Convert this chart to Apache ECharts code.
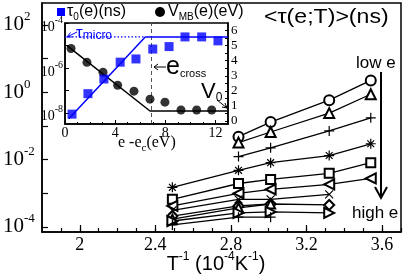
<!DOCTYPE html>
<html><head><meta charset="utf-8">
<script src="https://cdn.jsdelivr.net/npm/echarts@6/dist/echarts.min.js"></script>
<style>html,body{margin:0;padding:0;background:#fff}#c{width:403px;height:277px}</style>
</head><body><div id="c"></div>
<script>
// ---- main panel data: <tau(e;T)> (ns) vs T^-1 (1e-4 K^-1) ----
const invT = [2.49, 2.84, 3.01, 3.32, 3.54];
const tauCircle  = [null, 0.048, 0.13, 0.58, 2.25];
const tauTriUp   = [null, 0.032, 0.066, 0.24, 0.87];
const tauPlus    = [null, 0.0123, 0.0224, 0.071, 0.174];
const tauStar    = [0.0015, 0.0048, 0.0081, 0.0132, 0.0295];
const tauSquare  = [6.6e-4, 1.95e-3, 2.57e-3, 3.9e-3, 8.1e-3];
const tauTriLeft = [4.2e-4, 1.0e-3, 1.3e-3, 1.84e-3, 2.75e-3];
const tauCross   = [3.1e-4, 6.6e-4, 6.6e-4, 9.3e-4, null];
const tauDiamond = [2.1e-4, 4.2e-4, 4.8e-4, 4.5e-4, null];
const tauTriUp2  = [1.7e-4, 3.7e-4, 4.8e-4, null, null];
const tauTriRight= [1.5e-4, 2.6e-4, 2.8e-4, 2.6e-4, null];
const tauPlus2   = [1.15e-4, 1.95e-4, 1.95e-4, null, null];
const mainYTicks = [-4, -3, -2, -1, 0, 1, 2];
const mainYLabels = [-4, -2, 0, 2];
const mainXLabels = [2, 2.4, 2.8, 3.2, 3.6];

// ---- inset data ----
const tauE   = [0.56, 1.83, 3.1, 4.4, 5.66, 7.0, 8.3, 9.57, 10.9, 12.2];
const tau0   = [8.7e-9, 7.1e-8, 3.2e-7, 1.8e-6, 2.5e-6, 6.9e-6, 8.9e-6, 2.4e-5, 2.4e-5, 1.6e-5];
const tauFitE = [0.3, 6.4, 13];
const tauFitV = [5.4e-9, 2.4e-5, 2.4e-5];
const tauMicro = 2.4e-5;
const tauMicroE = [0, 6.4];
const vE   = [0.48, 1.75, 3.03, 4.2, 5.5, 6.78, 7.97, 9.25, 10.5, 11.7];
const vMB  = [4.81, 3.89, 3.23, 2.37, 1.98, 1.45, 1.25, 0.73, 0.73, 0.73];
const vFitE = [0.16, 6.78, 13];
const vFitV = [5.0, 0.66, 0.66];
const eCross = 6.9;
const insetYTicks = [-8, -7, -6, -5, -4];
const insetYLabels = [-8, -6, -4];
const insetRTicks = [0,0.5,1,1.5,2,2.5,3,3.5,4,4.5,5,5.5,6];
const insetRLabels = [0,1,2,3,4,5,6];

const L10 = Math.log10;
const pts = (xs, ys) => xs.map((x,i)=>[x, ys[i]==null?null:L10(ys[i])]).filter(p=>p[1]!==null);
const lin = (xs, ys) => xs.map((x,i)=>[x, ys[i]]);

const PLUS = 'path://M5,0L5,10M0,5L10,5';
const CROSS = 'path://M0,0L10,10M10,0L0,10';
const STAR = 'path://M5,0L5,10M0,5L10,5M1.6,1.6L8.4,8.4M8.4,1.6L1.6,8.4';

const mainDefs = [
  [tauCircle, 'emptyCircle', 10, 0],
  [tauTriUp, 'emptyTriangle', 10, 0],
  [tauPlus, PLUS, 10, 0],
  [tauStar, STAR, 10, 0],
  [tauSquare, 'emptyRect', 9, 0],
  [tauTriLeft, 'emptyTriangle', 10, 90],
  [tauCross, CROSS, 8, 0],
  [tauDiamond, 'emptyDiamond', 10, 0],
  [tauTriUp2, 'emptyTriangle', 9, 0],
  [tauTriRight, 'emptyTriangle', 10, -90],
  [tauPlus2, PLUS, 10, 0]
];

const serif = 'Liberation Serif';
const sans = 'Liberation Sans';
const range = (a,b,s)=>{const r=[];for(let v=a;v<=b+1e-9;v+=s)r.push(Math.round(v*100)/100);return r;};

const series = [];
mainDefs.forEach(d => {
  series.push({
    type:'line', xAxisIndex:0, yAxisIndex:0, data: pts(invT, d[0]),
    symbol:d[1], symbolSize:d[2], symbolRotate:d[3], showAllSymbol:true,
    lineStyle:{color:'#000', width:1.3},
    itemStyle:{color:'#000', borderColor:'#000', borderWidth:1.2},
    z:3, animation:false, silent:true
  });
});
// inset series
series.push({type:'line', xAxisIndex:2, yAxisIndex:2, data: lin(vFitE, vFitV), symbol:'none',
  lineStyle:{color:'#000', width:1.5}, z:5, animation:false,
  markLine:{silent:true, symbol:'none', label:{show:false}, animation:false,
    lineStyle:{color:'#555', type:[4,3], width:1}, data:[{xAxis:eCross}]}});
series.push({type:'scatter', xAxisIndex:2, yAxisIndex:2, data: lin(vE, vMB), symbol:'circle', symbolSize:9,
  itemStyle:{color:'#000'}, z:6, animation:false});
series.push({type:'line', xAxisIndex:2, yAxisIndex:1, data: pts(tauMicroE, [tauMicro, tauMicro]), symbol:'none',
  lineStyle:{color:'#0000ff', width:1.2, type:[1.5,2]}, z:7, animation:false});
series.push({type:'line', xAxisIndex:2, yAxisIndex:1, data: pts(tauFitE, tauFitV), symbol:'none',
  lineStyle:{color:'#0000ff', width:1.5}, z:7, animation:false});
series.push({type:'scatter', xAxisIndex:2, yAxisIndex:1, data: pts(tauE, tau0), symbol:'rect', symbolSize:9,
  itemStyle:{color:'#0000ff'}, z:8, animation:false});

const option = {
  animation:false,
  backgroundColor:'#fff',
  grid:[
    {left:40, top:3, right:2, bottom:45, show:true, borderColor:'#000', borderWidth:1.5, z:0},
    {left:65, top:23, right:175, bottom:153, show:true, borderColor:'#000', borderWidth:1.5, backgroundColor:'#fff', z:4}
  ],
  xAxis:[
    {gridIndex:0, type:'value', min:1.8, max:3.7, position:'bottom',
      axisLine:{onZero:false, lineStyle:{color:'#000', width:1.5}},
      axisTick:{inside:true, length:4, customValues: range(1.9,3.7,0.1), lineStyle:{color:'#000', width:1.2}},
      axisLabel:{customValues: mainXLabels, color:'#000', fontFamily:serif, fontSize:18, margin:4},
      splitLine:{show:false}},
    {gridIndex:0, type:'value', min:1.8, max:3.7, position:'bottom',
      axisLine:{show:false, onZero:false},
      axisTick:{inside:true, length:7, customValues: mainXLabels, lineStyle:{color:'#000', width:1.2}},
      axisLabel:{show:false}, splitLine:{show:false}},
    {gridIndex:1, type:'value', min:0, max:13, interval:4, position:'bottom', z:5,
      axisLine:{onZero:false, lineStyle:{color:'#000', width:1.5}},
      axisTick:{inside:true, length:4, lineStyle:{color:'#000'}},
      minorTick:{show:true, splitNumber:4, length:2, lineStyle:{color:'#000'}},
      axisLabel:{color:'#000', fontFamily:serif, fontSize:14, margin:2,
        formatter: v => (v>12.5?'':String(v))},
      splitLine:{show:false}}
  ],
  yAxis:[
    {gridIndex:0, type:'value', min:-4.15, max:2.65,
      axisLine:{onZero:false, lineStyle:{color:'#000', width:1.5}},
      axisTick:{inside:true, length:6, customValues: mainYTicks, lineStyle:{color:'#000', width:1.2}},
      axisLabel:{customValues: mainYLabels, align:'left', margin:39, color:'#000',
        formatter: v => '{b|10}{s|' + v + '}',
        rich:{b:{fontFamily:serif, fontSize:21, lineHeight:21, color:'#000', verticalAlign:'middle'},
              s:{fontFamily:serif, fontSize:13, lineHeight:13, padding:[0,0,16,0], color:'#000', verticalAlign:'middle'}}},
      splitLine:{show:false}},
    {gridIndex:1, type:'value', min:-8.5, max:-4, position:'left', z:5,
      axisLine:{onZero:false, lineStyle:{color:'#000', width:1.5}},
      axisTick:{inside:true, length:4, customValues: insetYTicks, lineStyle:{color:'#000'}},
      axisLabel:{customValues: insetYLabels, margin:2, color:'#000', showMaxLabel:true, showMinLabel:true, hideOverlap:false,
        formatter: v => '{b|10}{s|' + v + '}',
        rich:{b:{fontFamily:serif, fontSize:14, lineHeight:14, color:'#000', verticalAlign:'middle', padding:[8,0,0,0]},
              s:{fontFamily:serif, fontSize:10, lineHeight:10, padding:[0,0,6,0], color:'#000', verticalAlign:'middle'}}},
      splitLine:{show:false}},
    {gridIndex:1, type:'value', min:-0.2, max:6.5, position:'right', z:5,
      axisLine:{onZero:false, lineStyle:{color:'#000', width:1.5}},
      axisTick:{inside:true, length:3, customValues: insetRTicks, lineStyle:{color:'#000'}},
      axisLabel:{customValues: insetRLabels, margin:3, color:'#000', fontFamily:serif, fontSize:13},
      splitLine:{show:false}}
  ],
  series: series,
  graphic:[
    {type:'text', x:264, y:17, scaleX:1.1, z:20,
      style:{text:'<τ(e;T)>(ns)', fontFamily:sans, fontSize:21, fill:'#000', align:'left', verticalAlign:'middle'}},
    {type:'text', x:356, y:63, z:20,
      style:{text:'low e', fontFamily:sans, fontSize:17, fill:'#000', align:'left', verticalAlign:'middle'}},
    {type:'text', x:352, y:213, z:20,
      style:{text:'high e', fontFamily:sans, fontSize:17, fill:'#000', align:'left', verticalAlign:'middle'}},
    {type:'line', z:20, shape:{x1:381, y1:72, x2:381, y2:197}, style:{stroke:'#000', lineWidth:2}},
    {type:'polyline', z:20, shape:{points:[[375,187],[381,198],[387,187]]}, style:{stroke:'#000', lineWidth:2, fill:null}},
    {type:'text', x:216, y:264, z:20,
      style:{text:'{a|T}{s|-1}{a| (10}{s|-4}{a|K}{s|-1}{a|)}', align:'center', verticalAlign:'middle',
        rich:{a:{fontFamily:sans, fontSize:20, lineHeight:20, fill:'#000', verticalAlign:'middle'},
              s:{fontFamily:sans, fontSize:12, lineHeight:12, padding:[0,0,14,0], fill:'#000', verticalAlign:'middle'}}}},
    // inset legend
    {type:'rect', z:20, shape:{x:57, y:8, width:8, height:8}, style:{fill:'#0000ff'}},
    {type:'text', x:67, y:12, z:20,
      style:{text:'{a|τ}{b|0}{a|(e)(ns)}', align:'left', verticalAlign:'middle',
        rich:{a:{fontFamily:sans, fontSize:16, lineHeight:16, fill:'#000', verticalAlign:'middle'},
              b:{fontFamily:sans, fontSize:10, lineHeight:10, padding:[10,0,0,0], fill:'#000', verticalAlign:'middle'}}}},
    {type:'circle', z:20, shape:{cx:160, cy:12, r:5}, style:{fill:'#000'}},
    {type:'text', x:168, y:12, z:20,
      style:{text:'{a|V}{b|MB}{a|(e)(eV)}', align:'left', verticalAlign:'middle',
        rich:{a:{fontFamily:sans, fontSize:16, lineHeight:16, fill:'#000', verticalAlign:'middle'},
              b:{fontFamily:sans, fontSize:10, lineHeight:10, padding:[10,0,0,0], fill:'#000', verticalAlign:'middle'}}}},
    // tau micro
    {type:'line', z:20, shape:{x1:77, y1:32, x2:67, y2:37}, style:{stroke:'#0000ff', lineWidth:1}},
    {type:'polyline', z:20, shape:{points:[[70.5,32.5],[67,37],[72.5,37]]}, style:{stroke:'#0000ff', lineWidth:1, fill:null}},
    {type:'text', x:76, y:33, z:20,
      style:{text:'{a|τ}{b|micro}', align:'left', verticalAlign:'middle',
        rich:{a:{fontFamily:sans, fontSize:17, lineHeight:17, fill:'#0000ff', verticalAlign:'middle'},
              b:{fontFamily:sans, fontSize:12, lineHeight:12, padding:[6,0,0,0], fill:'#0000ff', verticalAlign:'middle'}}}},
    // e cross
    {type:'line', z:20, shape:{x1:166, y1:67, x2:154, y2:67}, style:{stroke:'#000', lineWidth:1}},
    {type:'polyline', z:20, shape:{points:[[158,64],[154,67],[158,70]]}, style:{stroke:'#000', lineWidth:1, fill:null}},
    {type:'text', x:166, y:67, z:20,
      style:{text:'{a|e}{b|cross}', align:'left', verticalAlign:'middle',
        rich:{a:{fontFamily:sans, fontSize:25, lineHeight:25, fill:'#000', verticalAlign:'middle'},
              b:{fontFamily:sans, fontSize:11, lineHeight:11, padding:[14,0,0,0], fill:'#000', verticalAlign:'middle'}}}},
    // V0
    {type:'text', x:201, y:92, z:20,
      style:{text:'{a|V}{b|0}', align:'left', verticalAlign:'middle',
        rich:{a:{fontFamily:sans, fontSize:22, lineHeight:22, fill:'#000', verticalAlign:'middle'},
              b:{fontFamily:sans, fontSize:12, lineHeight:12, padding:[12,0,0,0], fill:'#000', verticalAlign:'middle'}}}},
    {type:'line', z:20, shape:{x1:217, y1:100, x2:227, y2:108}, style:{stroke:'#000', lineWidth:1}},
    {type:'polyline', z:20, shape:{points:[[222,107],[227,108],[225,103]]}, style:{stroke:'#000', lineWidth:1, fill:null}},
    // inset x name
    {type:'text', x:118, y:143, z:20,
      style:{text:'{a|e -e}{b|c}{a|(eV)}', align:'left', verticalAlign:'middle',
        rich:{a:{fontFamily:serif, fontSize:16, lineHeight:16, fill:'#000', verticalAlign:'middle'},
              b:{fontFamily:serif, fontSize:11, lineHeight:11, padding:[10,0,0,0], fill:'#000', verticalAlign:'middle'}}}}
  ]
};
const chart = echarts.init(document.getElementById('c'));
chart.setOption(option);
</script>
</body></html>
